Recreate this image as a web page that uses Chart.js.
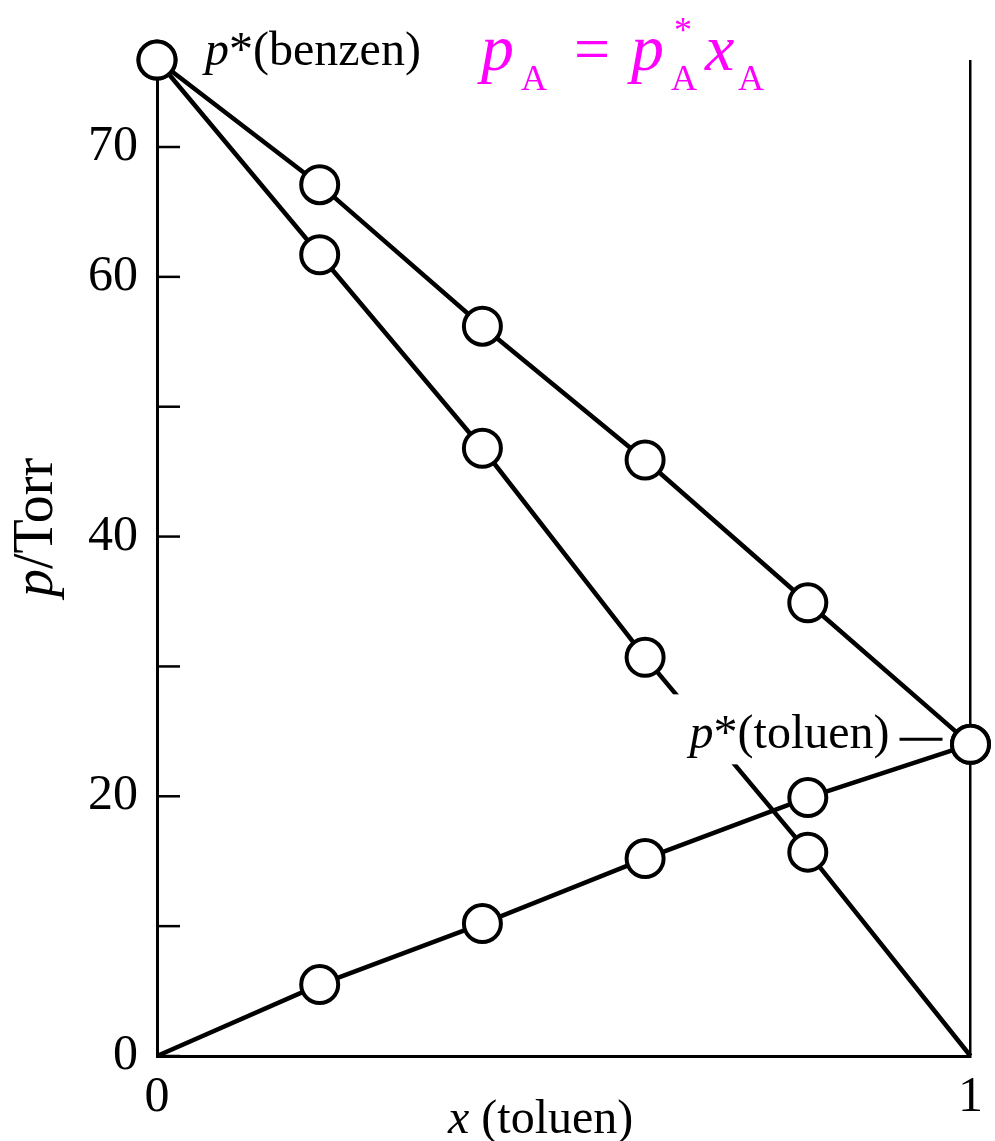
<!DOCTYPE html>
<html>
<head>
<meta charset="utf-8">
<script src="https://cdn.jsdelivr.net/npm/chart.js@4"></script>
<style>
    body { margin: 0; background: #fff; }
    #wrap { width: 995px; height: 1141px; }
</style>
</head>
<body>
<div id="wrap"><canvas id="raoult"></canvas></div>
<script>
// mole fraction of toluene
const xToluene = [0, 0.2, 0.4, 0.6, 0.8, 1];
// pressures in Torr
const pTotal = [76.7, 67.1, 56.2, 45.9, 34.9, 24.0];
const pBenzene = [76.7, 61.7, 46.8, 30.7, 15.7, 0];
const pToluene = [0, 5.5, 10.2, 15.2, 19.9, 24.0];
// which ticks get a number
const yLabelled = [0, 20, 40, 60, 70];
const xLabelled = [0, 1];

const serif = '"Liberation Serif", "DejaVu Serif", serif';
const R = 18.5;

function pts(ys) {
    return xToluene.map((x, i) => ({ x: x, y: ys[i] }));
}

function series(ys, radius) {
    return {
        data: pts(ys),
        showLine: true,
        borderColor: '#000',
        borderWidth: 4.5,
        pointRadius: radius,
        pointBorderWidth: 4,
        pointBorderColor: '#000',
        pointBackgroundColor: '#fff',
        clip: false
    };
}

// draws pieces of text one after the other: [text, font]
function drawRun(ctx, x, y, parts) {
    parts.forEach(p => {
        ctx.font = p[1];
        ctx.fillText(p[0], x, y);
        x += ctx.measureText(p[0]).width;
    });
    return x;
}

const annotations = {
    id: 'annotations',
    afterDraw(chart) {
        const ctx = chart.ctx;
        const xs = chart.scales.x;
        const ys = chart.scales.y;
        const area = chart.chartArea;
        ctx.save();

        // inward ticks on the p axis
        ctx.strokeStyle = '#000';
        ctx.lineWidth = 2.5;
        ys.ticks.forEach(t => {
            const py = ys.getPixelForValue(t.value);
            ctx.beginPath();
            ctx.moveTo(area.left, py);
            ctx.lineTo(area.left + 23, py);
            ctx.stroke();
        });

        ctx.fillStyle = '#000';
        ctx.textAlign = 'left';
        ctx.textBaseline = 'alphabetic';

        // p*(benzen)
        const bx = xs.getPixelForValue(0);
        const by = ys.getPixelForValue(pBenzene[0]);
        drawRun(ctx, bx + 48, by + 5, [
            ['p', 'italic 48px ' + serif],
            ['*(benzen)', '48px ' + serif]
        ]);

        // p*(toluen) with a white box that breaks the benzene line
        const tx = xs.getPixelForValue(1);
        const ty = ys.getPixelForValue(pToluene[5]);
        ctx.fillStyle = '#fff';
        ctx.fillRect(tx - 305, ty - 50, 222, 70);
        ctx.fillStyle = '#000';
        ctx.font = 'italic 48px ' + serif;
        const wp = ctx.measureText('p').width;
        ctx.font = '48px ' + serif;
        const wr = ctx.measureText('*(toluen)').width;
        drawRun(ctx, tx - 81 - wp - wr, ty + 4, [
            ['p', 'italic 48px ' + serif],
            ['*(toluen)', '48px ' + serif]
        ]);
        ctx.lineWidth = 3;
        ctx.beginPath();
        ctx.moveTo(tx - 71, ty - 5);
        ctx.lineTo(tx - 28, ty - 5);
        ctx.stroke();

        // Raoult's law in magenta
        ctx.fillStyle = '#ff00ff';
        const big = 'italic 66px ' + serif;
        const sub = '36px ' + serif;
        ctx.font = big;
        ctx.fillText('p', 481, 70);
        ctx.font = sub;
        ctx.fillText('A', 521, 90);
        ctx.font = '64px ' + serif;
        ctx.fillText('=', 574, 70);
        ctx.font = big;
        ctx.fillText('p', 631, 70);
        ctx.font = sub;
        ctx.fillText('*', 674, 42);
        ctx.fillText('A', 671, 90);
        ctx.font = big;
        ctx.fillText('x', 705, 70);
        ctx.font = sub;
        ctx.fillText('A', 738, 90);

        // axis titles
        ctx.fillStyle = '#000';
        drawRun(ctx, area.left + 291, 1133, [
            ['x', 'italic 48px ' + serif],
            [' (toluen)', '48px ' + serif]
        ]);
        ctx.save();
        ctx.translate(52, 597);
        ctx.rotate(-Math.PI / 2);
        drawRun(ctx, 0, 0, [
            ['p', 'italic 56px ' + serif],
            ['/Torr', '56px ' + serif]
        ]);
        ctx.restore();

        ctx.restore();
    }
};

new Chart(document.getElementById('raoult'), {
    type: 'scatter',
    data: {
        datasets: [
            series(pTotal, [R, R, R, R, R, R]),
            series(pBenzene, [R, R, R, R, R, 0]),
            series(pToluene, [0, R, R, R, R, R])
        ]
    },
    options: {
        responsive: true,
        maintainAspectRatio: false,
        animation: false,
        layout: { padding: { top: 60, right: 22, left: 0, bottom: 0 } },
        plugins: {
            legend: { display: false },
            tooltip: { enabled: false }
        },
        scales: {
            x: {
                type: 'linear',
                min: 0,
                max: 1,
                afterFit(scale) { scale.height = 85; },
                ticks: {
                    stepSize: 1,
                    padding: 12,
                    color: '#000',
                    font: { family: serif, size: 50 },
                    callback: v => xLabelled.includes(v) ? String(v) : ''
                },
                grid: {
                    drawTicks: false,
                    lineWidth: 2.5,
                    color: c => (c.tick && c.tick.value === 1) ? '#000' : 'rgba(0,0,0,0)'
                },
                border: { display: true, color: '#000', width: 3 }
            },
            y: {
                min: 0,
                max: pTotal[0],
                afterFit(scale) { scale.width = 157; },
                ticks: {
                    stepSize: 10,
                    includeBounds: false,
                    padding: 19,
                    color: '#000',
                    font: { family: serif, size: 50 },
                    callback: v => yLabelled.includes(v) ? String(v) : ''
                },
                grid: { drawTicks: false, drawOnChartArea: false },
                border: { display: true, color: '#000', width: 3 }
            }
        }
    },
    plugins: [annotations]
});
</script>
</body>
</html>
